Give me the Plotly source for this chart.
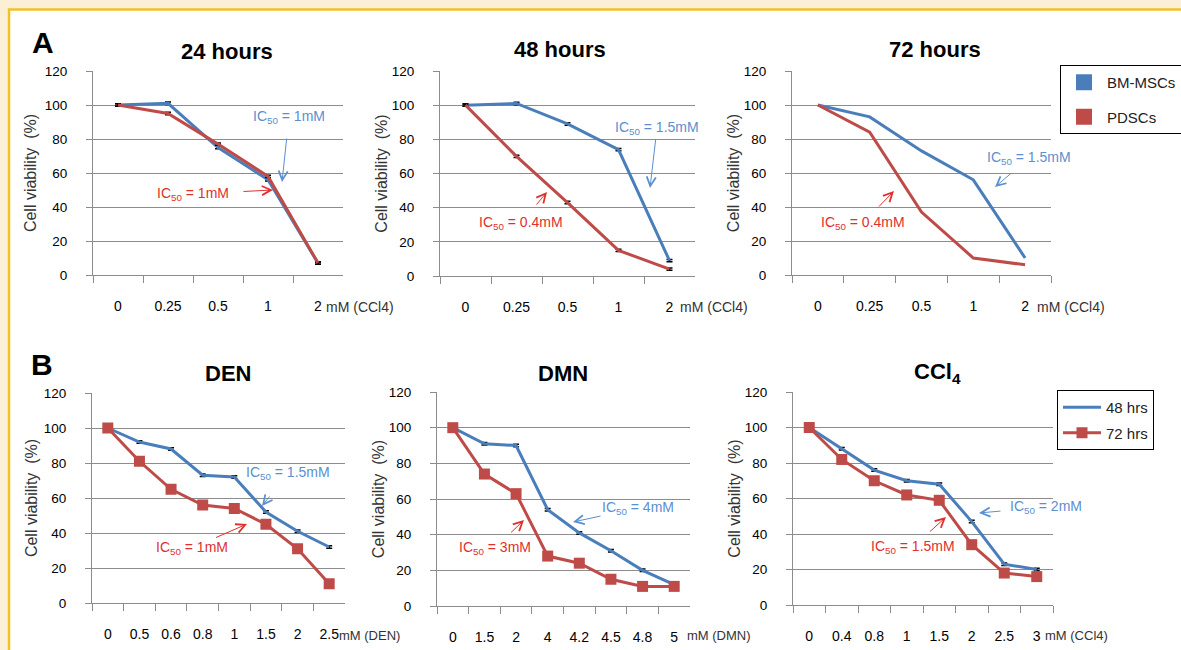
import plotly.graph_objects as go

W, H = 1181, 650

# ---------------- data ----------------
a_cats = ["0", "0.25", "0.5", "1", "2"]
bm_24 = [100, 101, 75, 56, 7]
pd_24 = [100, 95, 77, 58, 7]
bm_48 = [100, 101, 89, 74, 9]
pd_48 = [100, 70, 43, 15, 4]
bm_72 = [100, 93, 73, 56, 10]
pd_72 = [100, 84, 37, 10, 6]
err_a = [0.7, 0.7, 0.7, 0.7, 0.7]

den_cats = ["0", "0.5", "0.6", "0.8", "1", "1.5", "2", "2.5"]
den_48 = [100, 92, 88, 73, 72, 52, 41, 32]
den_72 = [100, 81, 65, 56, 54, 45, 31, 11]

dmn_cats = ["0", "1.5", "2", "4", "4.2", "4.5", "4.8", "5"]
dmn_48 = [100, 91, 90, 54, 41, 31, 20, 12]
dmn_72 = [100, 74, 63, 28, 24, 15, 11, 11]

ccl4_cats = ["0", "0.4", "0.8", "1", "1.5", "2", "2.5", "3"]
ccl4_48 = [100, 88, 76, 70, 68, 47, 23, 20]
ccl4_72 = [100, 82, 70, 62, 59, 34, 18, 16]
err_b = [0.7, 0.7, 0.7, 0.7, 0.7, 0.7, 0.7, 0.7]

y_ticks = [0, 20, 40, 60, 80, 100, 120]

BLUE = "#4A7EBB"
RED = "#BE4B48"
BLUE_TXT = "#5B8FCF"
RED_TXT = "#E0302E"
GRID = "#8C8C8C"
FONT = "Liberation Sans"


def px(x):
    return x / W


def py(y):
    return 1 - y / H


# pixel boxes of the six plot areas (x0, x1, ytop, ybottom)
boxes = [
    (93, 343, 71, 275),
    (440, 695, 71, 276),
    (792, 1051, 71, 275),
    (92, 345, 393, 603),
    (437, 690, 392, 606),
    (793, 1053, 392, 605),
]
title_std = [4, 0, 0, 2, 0, 0]

fig = go.Figure()


def err(arr):
    return dict(type="data", array=arr, color="black", thickness=1.5, width=3)


# panel A traces
a_series = [(bm_24, pd_24, True), (bm_48, pd_48, True), (bm_72, pd_72, False)]
for i, (bm, pdv, has_err) in enumerate(a_series, start=1):
    fig.add_trace(go.Scatter(
        x=a_cats, y=bm, mode="lines", line=dict(color=BLUE, width=3),
        error_y=err(err_a) if has_err else None,
        xaxis=f"x{i}", yaxis=f"y{i}", showlegend=False, name="BM-MSCs"))
    fig.add_trace(go.Scatter(
        x=a_cats, y=pdv, mode="lines", line=dict(color=RED, width=3),
        error_y=err(err_a) if has_err else None,
        xaxis=f"x{i}", yaxis=f"y{i}", showlegend=False, name="PDSCs"))

# legend A entries (patches)
fig.add_trace(go.Scatter(x=[None], y=[None], mode="markers", name="BM-MSCs",
                         marker=dict(symbol="square", size=16, color=BLUE),
                         xaxis="x3", yaxis="y3", legend="legend", legendgroup="g1"))
fig.add_trace(go.Scatter(x=[None], y=[None], mode="markers", name="PDSCs",
                         marker=dict(symbol="square", size=16, color=RED),
                         xaxis="x3", yaxis="y3", legend="legend", legendgroup="g2"))

# panel B traces
b_series = [(den_cats, den_48, den_72), (dmn_cats, dmn_48, dmn_72), (ccl4_cats, ccl4_48, ccl4_72)]
for j, (cats, h48, h72) in enumerate(b_series, start=4):
    show = j == 6
    fig.add_trace(go.Scatter(
        x=cats, y=h48, mode="lines", line=dict(color=BLUE, width=3),
        error_y=err(err_b), name="48 hrs",
        xaxis=f"x{j}", yaxis=f"y{j}", showlegend=show, legend="legend2", legendgroup="h1"))
    fig.add_trace(go.Scatter(
        x=cats, y=h72, mode="lines+markers", line=dict(color=RED, width=3),
        marker=dict(symbol="square", size=11, color=RED), name="72 hrs",
        xaxis=f"x{j}", yaxis=f"y{j}", showlegend=show, legend="legend2", legendgroup="h2"))

layout = dict(
    template="none",
    width=W, height=H,
    margin=dict(l=0, r=0, t=0, b=0, autoexpand=False),
    paper_bgcolor="white", plot_bgcolor="rgba(0,0,0,0)",
    font=dict(family=FONT, color="black"),
    legend=dict(x=px(1060), y=py(65), xanchor="left", yanchor="top",
                bordercolor="black", borderwidth=1, bgcolor="white", itemwidth=36,
                font=dict(size=15, family=FONT, color="#222"), tracegroupgap=12),
    legend2=dict(x=px(1057), y=py(390), xanchor="left", yanchor="top",
                 bordercolor="black", borderwidth=1, bgcolor="white", itemwidth=38,
                 font=dict(size=15, family=FONT, color="#222"), tracegroupgap=3),
)

cats_list = [a_cats, a_cats, a_cats, den_cats, dmn_cats, ccl4_cats]
for k, (x0, x1, y0, y1) in enumerate(boxes, start=1):
    n = len(cats_list[k - 1])
    layout[f"xaxis{k}"] = dict(
        domain=[px(x0), px(x1)], anchor=f"y{k}", type="category",
        categoryorder="array", categoryarray=cats_list[k - 1],
        range=[-0.5, n - 0.5], tickson="boundaries", ticks="outside", ticklen=7,
        tickcolor=GRID, showline=True, linecolor=GRID, linewidth=1, showgrid=False,
        zeroline=False, automargin=False,
        tickfont=dict(size=14, family=FONT, color="black"), ticklabelstandoff=18,
        fixedrange=True)
    layout[f"yaxis{k}"] = dict(
        domain=[py(y1), py(y0)], anchor=f"x{k}", range=[0, 120],
        tickvals=y_ticks, ticks="outside", ticklen=6, tickcolor=GRID,
        showline=True, linecolor=GRID, linewidth=1, showgrid=True, gridcolor=GRID,
        gridwidth=1, zeroline=False, automargin=False,
        tickfont=dict(size=13.5, family=FONT, color="black"), ticklabelstandoff=16,
        title=dict(text="Cell viability&nbsp; (%)", standoff=title_std[k - 1],
                   font=dict(size=16, family=FONT, color="#333")),
        fixedrange=True)

fig.update_layout(**layout)

# frame
fig.add_shape(type="rect", xref="paper", yref="paper", x0=0, x1=1, y0=0, y1=1,
              fillcolor="#FBEFD6", line=dict(width=0), layer="below")
fig.add_shape(type="rect", xref="paper", yref="paper", x0=px(9), x1=1.02, y0=-0.02, y1=py(9.5),
              fillcolor="white", line=dict(color="#F3C125", width=2.5), layer="below")

ann = []


def text(x, y, s, size, color="black", xanchor="center", bold=False):
    ann.append(dict(x=px(x), y=py(y), xref="paper", yref="paper", text=f"<b>{s}</b>" if bold else s,
                    showarrow=False, xanchor=xanchor, yanchor="middle",
                    font=dict(size=size, color=color, family=FONT)))


def ic(label, cx, cy, tipx, tipy, pad, color):
    ann.append(dict(x=px(tipx), y=py(tipy), xref="paper", yref="paper",
                    text=f"IC<sub>50</sub> = {label}", showarrow=True,
                    ax=cx - tipx, ay=cy - tipy, borderpad=pad,
                    arrowhead=5, arrowsize=1.8, arrowwidth=1, arrowcolor=color, standoff=0,
                    font=dict(size=14, color=color, family=FONT)))


# panel letters and titles
text(43, 43, "A", 30, bold=True)
text(42, 364, "B", 30, bold=True)
text(227, 51, "24 hours", 22, bold=True)
text(560, 50, "48 hours", 22, bold=True)
text(935, 49, "72 hours", 22, bold=True)
text(228, 373, "DEN", 22, bold=True)
text(563, 373, "DMN", 22, bold=True)
text(937, 373, "CCl<sub>4</sub>", 22, bold=True)

# unit suffixes
text(324, 307, "mM (CCl4)", 14, color="#333", xanchor="left")
text(678, 307, "mM (CCl4)", 14, color="#333", xanchor="left")
text(1035, 307, "mM (CCl4)", 14, color="#333", xanchor="left")
text(337, 635, "mM (DEN)", 13, color="#333", xanchor="left")
text(685, 635, "mM (DMN)", 13, color="#333", xanchor="left")
text(1043, 635, "mM (CCl4)", 13, color="#333", xanchor="left")

# IC50 notes (text centre, arrow tip, gap)
ic("1mM", 289, 117, 282, 182, 12, BLUE_TXT)
ic("1mM", 193, 194, 273, 190, 14, RED_TXT)
ic("1.5mM", 657, 128, 650, 188, 2, BLUE_TXT)
ic("0.4mM", 521, 223, 547, 192, 9, RED_TXT)
ic("1.5mM", 1029, 158, 995, 187, 6, BLUE_TXT)
ic("0.4mM", 863, 223, 894, 191, 7, RED_TXT)
ic("1.5mM", 288, 473, 262, 506, 14, BLUE_TXT)
ic("1mM", 192, 548, 247, 524, 1, RED_TXT)
ic("4mM", 638, 508, 573, 522, 1, BLUE_TXT)
ic("3mM", 495, 548, 524, 520, 6, RED_TXT)
ic("2mM", 1046, 507, 979, 513, 9, BLUE_TXT)
ic("1.5mM", 913, 547, 946, 517, 6, RED_TXT)

fig.update_layout(annotations=ann)

fig.write_html(
    "out.html",
    config={"displayModeBar": False},
    post_script="document.body.style.margin='0';document.body.style.overflow='hidden';",
)
